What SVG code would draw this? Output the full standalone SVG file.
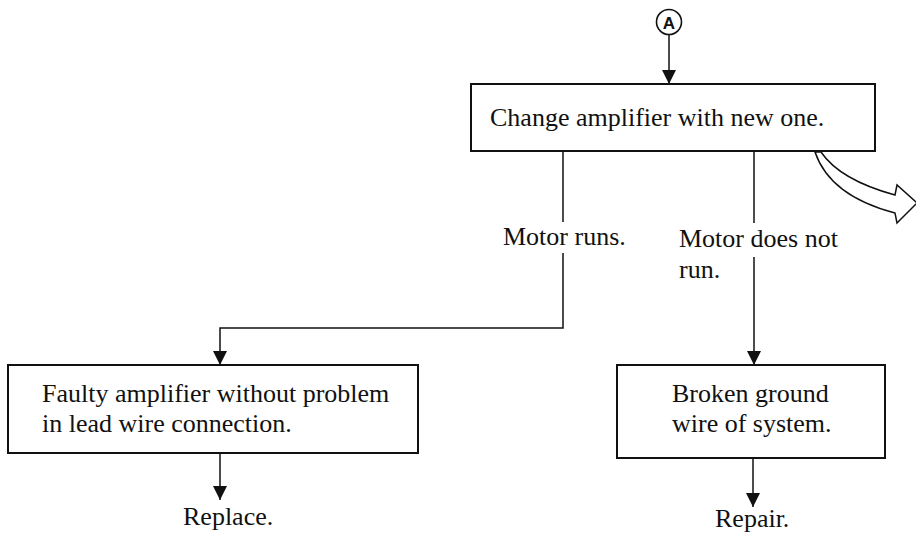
<svg xmlns="http://www.w3.org/2000/svg" width="916" height="533" viewBox="0 0 916 533">
<style>
.box{fill:#fff;stroke:#111;stroke-width:2}
.t{font-family:"Liberation Serif","Times New Roman",serif;font-size:26px;fill:#111}
.ln{fill:none;stroke:#111;stroke-width:1.5}
</style>
<defs>
<marker id="ah" markerUnits="userSpaceOnUse" markerWidth="14" markerHeight="14" viewBox="0 0 14 14" refX="14" refY="7" orient="auto">
<path d="M0,0 L14,7 L0,14 Z" fill="#111"/>
</marker>
</defs>
<rect width="916" height="533" fill="#fff"/>
<g id="connectors">
<line class="ln" x1="669" y1="35" x2="669" y2="84" marker-end="url(#ah)"/>
<line class="ln" x1="563" y1="151" x2="563" y2="222"/>
<path class="ln" d="M563,253 V328 H220 V365" marker-end="url(#ah)"/>
<line class="ln" x1="754" y1="151" x2="754" y2="223"/>
<line class="ln" x1="754" y1="257" x2="754" y2="365" marker-end="url(#ah)"/>
<line class="ln" x1="220" y1="453" x2="220" y2="500" marker-end="url(#ah)"/>
<line class="ln" x1="753" y1="458" x2="753" y2="507" marker-end="url(#ah)"/>
<path class="ln" d="M815,152 Q830,196 895,213 L897,223 L917,203 L897,185 L895,195 Q840,180 821,152 Z" fill="#fff"/>
<text class="t" x="503" y="245">Motor runs.</text>
<text class="t" x="679" y="247">Motor does not</text>
<text class="t" x="679" y="278">run.</text>
</g>
<g id="nodeA">
<circle cx="669" cy="22" r="12.5" fill="#fff" stroke="#111" stroke-width="1.6"/>
<text x="669" y="28.5" text-anchor="middle" font-family="Liberation Sans,Arial,sans-serif" font-weight="bold" font-size="17" fill="#111">A</text>
</g>
<g id="change">
<rect class="box" x="471" y="84" width="404" height="67"/>
<text class="t" x="490" y="126">Change amplifier with new one.</text>
</g>
<g id="faulty">
<rect class="box" x="8" y="365" width="410" height="88"/>
<text class="t" x="42" y="402">Faulty amplifier without problem</text>
<text class="t" x="42" y="432">in lead wire connection.</text>
</g>
<g id="replace">
<text class="t" x="183" y="525">Replace.</text>
</g>
<g id="broken">
<rect class="box" x="617" y="365" width="268" height="93"/>
<text class="t" x="672" y="402">Broken ground</text>
<text class="t" x="672" y="432">wire of system.</text>
</g>
<g id="repair">
<text class="t" x="715" y="527">Repair.</text>
</g>
</svg>
